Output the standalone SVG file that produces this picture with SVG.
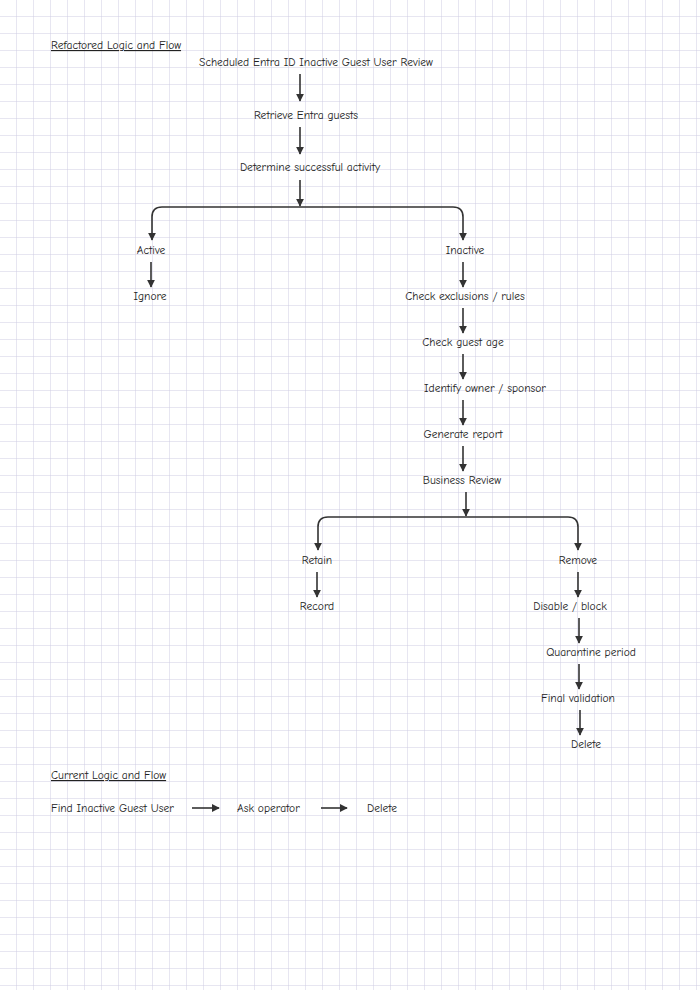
<svg xmlns="http://www.w3.org/2000/svg" width="700" height="990" viewBox="0 0 700 990">
<defs>
<pattern id="grid" width="17" height="17" patternUnits="userSpaceOnUse"><path d="M17 0V17M0 17H17" fill="none" stroke="#cfcde3" stroke-width="1"/></pattern>
<marker id="ah" viewBox="0 0 10 10" refX="9" refY="5" markerWidth="5" markerHeight="5" orient="auto"><path d="M0 0L10 5L0 10z" fill="#333"/></marker>
<style>
text{font-family:"Comic Neue","Comic Sans MS","DejaVu Sans",cursive;font-size:11.5px;fill:#222}
.c{text-anchor:middle}
.u{text-decoration:underline}
.e{fill:none;stroke:#333;stroke-width:1.6;marker-end:url(#ah)}
</style>
</defs>
<rect width="700" height="990" fill="#fff"/>
<rect width="700" height="990" fill="url(#grid)"/>
<text class="u" x="51" y="49">Refactored Logic and Flow</text>
<g id="n1"><text class="c" x="316" y="66">Scheduled Entra ID Inactive Guest User Review</text></g>
<g id="n2"><text class="c" x="306" y="119">Retrieve Entra guests</text></g>
<g id="n3"><text class="c" x="310" y="171">Determine successful activity</text></g>
<g id="n4"><text class="c" x="151" y="254">Active</text></g>
<g id="n5"><text class="c" x="150" y="300">Ignore</text></g>
<g id="n6"><text class="c" x="465" y="254">Inactive</text></g>
<g id="n7"><text class="c" x="465" y="300">Check exclusions / rules</text></g>
<g id="n8"><text class="c" x="463" y="346">Check guest age</text></g>
<g id="n9"><text class="c" x="485" y="392">Identify owner / sponsor</text></g>
<g id="n10"><text class="c" x="463" y="438">Generate report</text></g>
<g id="n11"><text class="c" x="462" y="484">Business Review</text></g>
<g id="n12"><text class="c" x="317" y="564">Retain</text></g>
<g id="n13"><text class="c" x="317" y="610">Record</text></g>
<g id="n14"><text class="c" x="578" y="564">Remove</text></g>
<g id="n15"><text class="c" x="570" y="610">Disable / block</text></g>
<g id="n16"><text class="c" x="591" y="656">Quarantine period</text></g>
<g id="n17"><text class="c" x="578" y="702">Final validation</text></g>
<g id="n18"><text class="c" x="586" y="748">Delete</text></g>
<text class="u" x="51" y="779">Current Logic and Flow</text>
<g id="c1"><text x="51" y="812">Find Inactive Guest User</text></g>
<g id="c2"><text x="237" y="812">Ask operator</text></g>
<g id="c3"><text x="367" y="812">Delete</text></g>
<g id="connectors">
<path class="e" d="M300 74V101"/>
<path class="e" d="M300 127V154"/>
<path class="e" d="M300 180V206"/>
<path class="e" d="M300 207H162Q152 207 152 217V240"/>
<path class="e" d="M300 207H453Q463 207 463 217V240"/>
<path class="e" d="M151 262V287"/>
<path class="e" d="M463 262V287"/>
<path class="e" d="M463 308V333"/>
<path class="e" d="M463 354V379"/>
<path class="e" d="M463 400V425"/>
<path class="e" d="M463 446V471"/>
<path class="e" d="M466 492V516"/>
<path class="e" d="M466 517H328Q318 517 318 527V550"/>
<path class="e" d="M466 517H568Q578 517 578 527V550"/>
<path class="e" d="M317 572V597"/>
<path class="e" d="M578 572V597"/>
<path class="e" d="M579 618V643"/>
<path class="e" d="M579 664V689"/>
<path class="e" d="M580 710V735"/>
<path class="e" d="M192 808H219"/>
<path class="e" d="M321 808H347"/>
</g>
</svg>
